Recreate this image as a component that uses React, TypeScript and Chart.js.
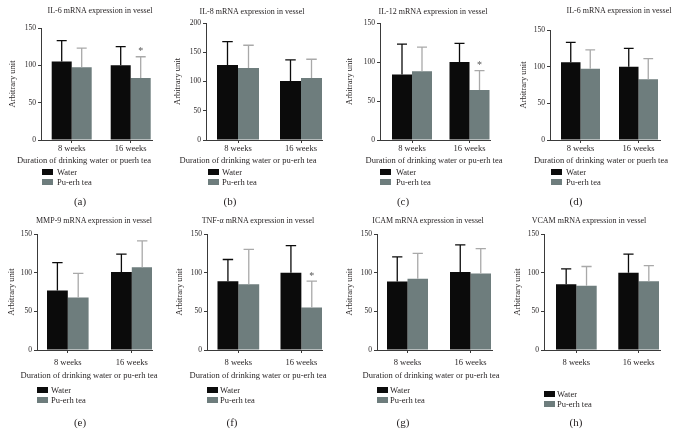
import React, { useEffect, useRef } from 'react';
import { Chart, registerables } from 'chart.js';

Chart.register(...registerables);

// ---------------- DATA ----------------
const panelTitles = [
  'IL-6 mRNA expression in vessel',
  'IL-8 mRNA expression in vessel',
  'IL-12 mRNA expression in vessel',
  'IL-6 mRNA expression in vessel',
  'MMP-9 mRNA expression in vessel',
  'TNF-α mRNA expression in vessel',
  'ICAM mRNA expression in vessel',
  'VCAM mRNA expression in vessel',
];
const panelLetters = ['(a)', '(b)', '(c)', '(d)', '(e)', '(f)', '(g)', '(h)'];
const categories = ['8 weeks', '16 weeks'];
const seriesNames = ['Water', 'Pu-erh tea'];
const xAxisTitles = [
  'Duration of drinking water or puerh tea',
  'Duration of drinking water or pu-erh tea',
  'Duration of drinking water or pu-erh tea',
  'Duration of drinking water or puerh tea',
  'Duration of drinking water or pu-erh tea',
  'Duration of drinking water or pu-erh tea',
  'Duration of drinking water or pu-erh tea',
  '',
];
const yAxisTitle = 'Arbitrary unit';
const yMax = [150, 200, 150, 150, 150, 150, 150, 150];
const yStep = 50;

const waterMean = [[105, 100], [128, 101], [84, 100], [106, 100], [77, 101], [89, 100], [88.5, 101], [85, 100]];
const waterErr = [[28, 25], [40, 36], [39, 24], [27, 25], [36, 23], [28, 35], [32, 35], [20, 24]];
const teaMean = [[97.5, 83], [123, 106], [88, 64], [97, 83], [68, 107], [85, 55], [92, 99], [83, 89]];
const teaErr = [[25.5, 28.5], [39, 32], [31, 25], [26, 28], [31, 34], [45, 34], [33, 32], [25, 20]];
const significant = [
  [false, true], [false, false], [false, true], [false, false],
  [false, false], [false, true], [false, false], [false, false],
];

// ---------------- LAYOUT / STYLE ----------------
const FONT = '"Liberation Serif", "Times New Roman", serif';
const TEXT = '#231f20';
const AXIS = '#3a3a3a';
const WATER_COLOR = '#0b0b0b';
const TEA_COLOR = '#6e7d7d';
const ERR_COLORS = ['#0b0b0b', '#a9a9a9'];
const Y_AXIS_W = 38;

const layouts = [
  { axisX: 41, endX: 152, gap: 10.7, group: 40, spacing: 59, yTop: 28, y0: 140, yTitleX: 13, titleX: 100, titleY: 11, xTitleX: 84, xTitleY: 160, legX: 42, legTextX: 57, legY: 172, capX: 80, capY: 201, tickPad: 1 },
  { axisX: 206, endX: 322, gap: 11, group: 42, spacing: 63, yTop: 23, y0: 140, yTitleX: 178, titleX: 252, titleY: 12, xTitleX: 248, xTitleY: 160, legX: 208, legTextX: 222, legY: 172, capX: 230, capY: 201, tickPad: 1 },
  { axisX: 380, endX: 490, gap: 12, group: 40, spacing: 57.5, yTop: 23, y0: 140, yTitleX: 350, titleX: 433, titleY: 12, xTitleX: 434, xTitleY: 160, legX: 380, legTextX: 396, legY: 172, capX: 403, capY: 201, tickPad: 1 },
  { axisX: 550, endX: 660, gap: 11, group: 39, spacing: 58, yTop: 30, y0: 140, yTitleX: 524, titleX: 619, titleY: 11, xTitleX: 601, xTitleY: 160, legX: 551, legTextX: 566, legY: 172, capX: 576, capY: 201, tickPad: 1 },
  { axisX: 37, endX: 152, gap: 10, group: 41.6, spacing: 64, yTop: 234, y0: 350, yTitleX: 12, titleX: 94, titleY: 221, xTitleX: 89, xTitleY: 375, legX: 37, legTextX: 51, legY: 390, capX: 80, capY: 422, tickPad: 5 },
  { axisX: 207, endX: 322, gap: 10.5, group: 41.7, spacing: 63, yTop: 234, y0: 350, yTitleX: 180, titleX: 258, titleY: 221, xTitleX: 258, xTitleY: 375, legX: 207, legTextX: 220, legY: 390, capX: 232, capY: 422, tickPad: 5 },
  { axisX: 377, endX: 492, gap: 10, group: 41, spacing: 63, yTop: 234, y0: 350, yTitleX: 350, titleX: 428, titleY: 221, xTitleX: 431, xTitleY: 375, legX: 377, legTextX: 390, legY: 390, capX: 403, capY: 422, tickPad: 5 },
  { axisX: 544, endX: 660, gap: 12, group: 40.7, spacing: 62.3, yTop: 234, y0: 350, yTitleX: 518, titleX: 589, titleY: 221, xTitleX: 0, xTitleY: 375, legX: 544, legTextX: 557, legY: 394, capX: 576, capY: 422, tickPad: 5 },
];

function makeErrorPlugin(p: number) {
  const errs = [waterErr[p], teaErr[p]];
  const means = [waterMean[p], teaMean[p]];
  return {
    id: 'errorBars' + p,
    afterDatasetsDraw(chart: any) {
      const ctx = chart.ctx;
      const yScale = chart.scales.y;
      chart.data.datasets.forEach((_ds: any, di: number) => {
        const meta = chart.getDatasetMeta(di);
        meta.data.forEach((el: any, i: number) => {
          const top = yScale.getPixelForValue(means[di][i] + errs[di][i]);
          const x = el.x;
          const w = el.width;
          ctx.save();
          ctx.strokeStyle = ERR_COLORS[di];
          ctx.lineWidth = 1.3;
          ctx.beginPath();
          ctx.moveTo(x, el.y);
          ctx.lineTo(x, top);
          ctx.moveTo(x - w / 4, top);
          ctx.lineTo(x + w / 4, top);
          ctx.stroke();
          if (di === 1 && significant[p][i]) {
            ctx.fillStyle = '#555';
            ctx.font = `10px ${FONT}`;
            ctx.textAlign = 'center';
            ctx.textBaseline = 'middle';
            ctx.fillText('*', x, top - 5);
          }
          ctx.restore();
        });
      });
    },
  };
}

function Panel({ p }: { p: number }) {
  const ref = useRef<HTMLCanvasElement>(null);
  const L = layouts[p];
  const padTop = 8;
  const padRight = 8;
  const xAxisH = 24;
  const cLeft = L.axisX - Y_AXIS_W;
  const cTop = L.yTop - padTop;
  const cW = L.endX - L.axisX + Y_AXIS_W + padRight;
  const cH = L.y0 - L.yTop + padTop + xAxisH;

  useEffect(() => {
    if (!ref.current) return;
    const unit = L.spacing;
    const catPct = L.group / unit;
    const c1 = (L.gap + L.group / 2) / unit;
    const c2 = c1 + 1;
    const xMax = (L.endX - L.axisX) / unit;
    const titlePad = Math.max(0, L.yTitleX - cLeft - 5.1);

    const chart = new Chart(ref.current, {
      type: 'bar',
      data: {
        datasets: [
          {
            label: seriesNames[0],
            data: [{ x: c1, y: waterMean[p][0] }, { x: c2, y: waterMean[p][1] }] as any,
            backgroundColor: WATER_COLOR,
            borderWidth: 0,
          },
          {
            label: seriesNames[1],
            data: [{ x: c1, y: teaMean[p][0] }, { x: c2, y: teaMean[p][1] }] as any,
            backgroundColor: TEA_COLOR,
            borderWidth: 0,
          },
        ],
      },
      options: {
        responsive: false,
        animation: false,
        devicePixelRatio: 1,
        categoryPercentage: catPct,
        barPercentage: 1,
        layout: { padding: { top: padTop, right: padRight, left: 0, bottom: 0 } },
        plugins: {
          legend: { display: false },
          tooltip: { enabled: false },
          title: { display: false },
        },
        scales: {
          x: {
            type: 'linear',
            min: 0,
            max: xMax,
            offset: false,
            grid: { display: true, offset: false, drawOnChartArea: false, drawTicks: true, tickLength: 3, color: AXIS },
            border: { display: true, color: AXIS, width: 1 },
            afterBuildTicks: (s: any) => {
              s.ticks = [{ value: c1 }, { value: c2 }];
            },
            afterFit: (s: any) => {
              s.height = xAxisH;
            },
            ticks: {
              autoSkip: false,
              maxRotation: 0,
              padding: L.tickPad,
              color: TEXT,
              font: { family: FONT, size: 8.5 },
              callback: (_v: any, i: number) => categories[i],
            },
          },
          y: {
            min: 0,
            max: yMax[p],
            grid: { display: true, drawOnChartArea: false, drawTicks: true, tickLength: 3, color: AXIS },
            border: { display: true, color: AXIS, width: 1 },
            ticks: { stepSize: yStep, padding: 2, color: TEXT, font: { family: FONT, size: 7.5 } },
            title: {
              display: true,
              text: yAxisTitle,
              color: TEXT,
              font: { family: FONT, size: 8.5 },
              padding: { top: titlePad, bottom: 0 },
            },
            afterFit: (s: any) => {
              s.width = Y_AXIS_W;
            },
          },
        } as any,
      },
      plugins: [makeErrorPlugin(p)],
    });
    return () => chart.destroy();
  }, [p]);

  const txt: React.CSSProperties = {
    position: 'absolute',
    fontFamily: FONT,
    color: TEXT,
    whiteSpace: 'nowrap',
    lineHeight: 1,
    willChange: 'transform',
  };

  return (
    <>
      <div style={{ ...txt, left: L.titleX, top: L.titleY, fontSize: 8, transform: 'translate(-50%, -50%)' }}>
        {panelTitles[p]}
      </div>
      <canvas
        ref={ref}
        width={cW}
        height={cH}
        style={{ position: 'absolute', left: cLeft, top: cTop, width: cW, height: cH }}
      />
      {xAxisTitles[p] ? (
        <div style={{ ...txt, left: L.xTitleX, top: L.xTitleY, fontSize: 8.5, transform: 'translate(-50%, -50%)' }}>
          {xAxisTitles[p]}
        </div>
      ) : null}
      {seriesNames.map((name, i) => (
        <React.Fragment key={name}>
          <div
            style={{
              position: 'absolute',
              left: L.legX,
              top: L.legY + i * 10 - 3,
              width: 11,
              height: 6,
              background: i === 0 ? WATER_COLOR : TEA_COLOR,
            }}
          />
          <div style={{ ...txt, left: L.legTextX, top: L.legY + i * 10, fontSize: 8.5, transform: 'translateY(-50%)' }}>
            {name}
          </div>
        </React.Fragment>
      ))}
      <div style={{ ...txt, left: L.capX, top: L.capY, fontSize: 11, transform: 'translate(-50%, -50%)' }}>
        {panelLetters[p]}
      </div>
    </>
  );
}

export default function App() {
  return (
    <div style={{ position: 'absolute', left: 0, top: 0, width: 676, height: 443, background: '#fff', overflow: 'hidden' }}>
      {panelTitles.map((_t, p) => (
        <Panel key={p} p={p} />
      ))}
    </div>
  );
}
